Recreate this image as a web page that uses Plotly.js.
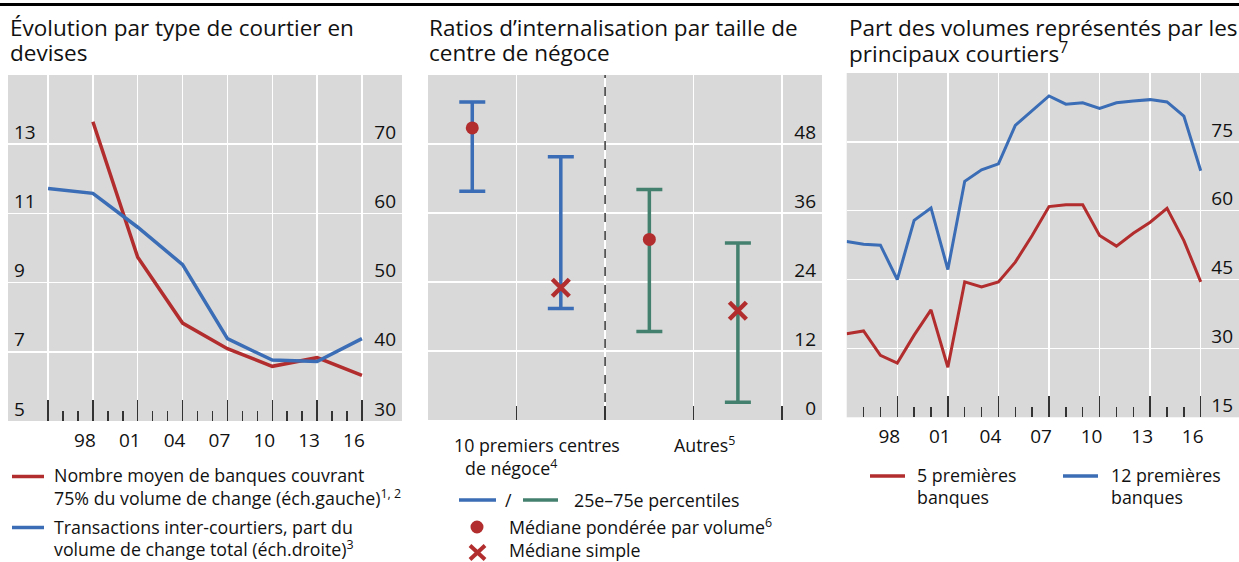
<!DOCTYPE html>
<html><head><meta charset="utf-8">
<script src="https://cdn.plot.ly/plotly-3.0.1.min.js"></script>
<style>html,body{margin:0;padding:0;background:#fff}#chart{width:1239px;height:562px}</style>
</head><body><div id="chart"></div>
<script>
// ---------- Panel 1 data ----------
const surveyYears = [1995, 1998, 2001, 2004, 2007, 2010, 2013, 2016];
const interDealerShare = [63.6, 62.9, 58.0, 52.6, 41.9, 38.8, 38.6, 41.9];
const banksYears = [1998, 2001, 2004, 2007, 2010, 2013, 2016];
const banksCovering75 = [13.65, 9.73, 7.83, 7.09, 6.58, 6.83, 6.32];
const p1LeftTicks = [5, 7, 9, 11, 13];
const p1RightTicks = [30, 40, 50, 60, 70];
const yearLabels = ['', '98', '01', '04', '07', '10', '13', '16'];

// ---------- Panel 2 data ----------
const centreCats = ['10 premiers – pondérée', '10 premiers – simple', 'Autres – pondérée', 'Autres – simple'];
const centreGroup = ['top', 'top', 'autres', 'autres'];
const pct25 = [39.8, 19.4, 15.4, 3.1];
const pct75 = [55.3, 45.8, 40.1, 30.8];
const medianVal = [50.8, 23.0, 31.4, 19.0];
const medianType = ['pondérée', 'simple', 'pondérée', 'simple'];
const p2Ticks = [0, 12, 24, 36, 48];

// ---------- Panel 3 data ----------
const annualYears = [1995, 1996, 1997, 1998, 1999, 2000, 2001, 2002, 2003, 2004, 2005,
  2006, 2007, 2008, 2009, 2010, 2011, 2012, 2013, 2014, 2015, 2016];
const top5Share = [33.2, 33.8, 28.5, 26.8, 32.9, 38.4, 25.9, 44.5, 43.4, 44.5, 48.8,
  54.6, 60.9, 61.3, 61.3, 54.6, 52.3, 55.1, 57.5, 60.5, 53.5, 44.5];
const top12Share = [53.3, 52.7, 52.5, 45.0, 57.9, 60.6, 47.2, 66.4, 68.9, 70.2, 78.6,
  81.9, 85.0, 83.2, 83.5, 82.3, 83.5, 83.9, 84.2, 83.7, 80.6, 68.7];
const p3Ticks = [15, 30, 45, 60, 75];

// ---------- texts ----------
const titles = [
  ['Évolution par type de courtier en', 'devises'],
  ['Ratios d’internalisation par taille de', 'centre de négoce'],
  ['Part des volumes représentés par les', 'principaux courtiers<sup>7</sup>']
];
const legend1 = [
  ['Nombre moyen de banques couvrant', '75% du volume de change (éch.gauche)<sup>1, 2</sup>'],
  ['Transactions inter-courtiers, part du', 'volume de change total (éch.droite)<sup>3</sup>']
];
const groupLabels = [['10 premiers centres', 'de négoce<sup>4</sup>'], ['Autres<sup>5</sup>']];
const legend2 = ['25e–75e percentiles', 'Médiane pondérée par volume<sup>6</sup>', 'Médiane simple'];
const legend3 = [['5 premières', 'banques'], ['12 premières', 'banques']];

// ---------- styles ----------
const RED = '#b22d2d', BLUE = '#3a6db5', GREEN = '#44806e', BG = '#d9d9d9', INK = '#111';
const FONT = 'Open Sans, Noto Sans, sans-serif';
const W = 1239, H = 562;
const px = x => x / W, py = y => 1 - y / H;

const minorYears = annualYears.filter(y => (y - 1995) % 3 !== 0);

const traces = [
  {x: banksYears, y: banksCovering75, xaxis: 'x', yaxis: 'y', mode: 'lines', type: 'scatter',
   line: {color: RED, width: 3.5}, name: legend1[0].join(' ')},
  {x: surveyYears, y: interDealerShare, xaxis: 'x', yaxis: 'y2', mode: 'lines', type: 'scatter',
   line: {color: BLUE, width: 3.5}, name: legend1[1].join(' ')}
];

// Panel 2 error bars
[['top', BLUE], ['autres', GREEN]].forEach(([g, col]) => {
  const idx = centreCats.map((c, i) => i).filter(i => centreGroup[i] === g);
  traces.push({
    x: idx.map(i => centreCats[i]), y: idx.map(i => medianVal[i]),
    xaxis: 'x2', yaxis: 'y3', type: 'scatter', mode: 'markers',
    marker: {size: 1, color: 'rgba(0,0,0,0)'}, hoverinfo: 'skip',
    error_y: {type: 'data', symmetric: false,
      array: idx.map(i => pct75[i] - medianVal[i]),
      arrayminus: idx.map(i => medianVal[i] - pct25[i]),
      color: col, thickness: 3.5, width: 13}
  });
});
const wIdx = centreCats.map((c, i) => i).filter(i => medianType[i] === 'pondérée');
const sIdx = centreCats.map((c, i) => i).filter(i => medianType[i] === 'simple');
traces.push({x: wIdx.map(i => centreCats[i]), y: wIdx.map(i => medianVal[i]), xaxis: 'x2', yaxis: 'y3',
  type: 'scatter', mode: 'markers', marker: {symbol: 'circle', size: 13, color: RED}, name: 'Médiane pondérée'});
traces.push({x: sIdx.map(i => centreCats[i]), y: sIdx.map(i => medianVal[i]), xaxis: 'x2', yaxis: 'y3',
  type: 'scatter', mode: 'markers', marker: {symbol: 'x-thin', size: 17, color: RED, line: {color: RED, width: 4.5}},
  name: 'Médiane simple'});

// Panel 3
traces.push({x: annualYears, y: top5Share, xaxis: 'x3', yaxis: 'y4', type: 'scatter', mode: 'lines',
  line: {color: RED, width: 3}, name: legend3[0].join(' ')});
traces.push({x: annualYears, y: top12Share, xaxis: 'x3', yaxis: 'y4', type: 'scatter', mode: 'lines',
  line: {color: BLUE, width: 3}, name: legend3[1].join(' ')});

const tickFont = {family: FONT, size: 19, color: INK};
const yearAxis = (dom, rng, anchor) => ({
  domain: dom, range: rng, anchor: anchor, showgrid: true, gridcolor: '#fff', gridwidth: 1.5,
  zeroline: false, showline: false,
  tickmode: 'array', tickvals: surveyYears, ticktext: yearLabels,
  ticks: 'inside', ticklen: 21, tickwidth: 1.5, tickcolor: '#333',
  ticklabelshift: -8, ticklabelstandoff: 6, tickfont: tickFont,
  minor: {tickmode: 'array', tickvals: minorYears, ticks: 'inside', ticklen: 10, tickwidth: 1.5, tickcolor: '#333', showgrid: false}
});
const valAxis = (extra) => Object.assign({
  zeroline: false, showline: false, ticks: '', tickmode: 'array',
  ticklabelposition: 'inside', ticklabelshift: -12, ticklabelstandoff: 3, ticklabeloverflow: 'allow',
  tickfont: tickFont, gridcolor: '#fff', gridwidth: 1.5
}, extra);

const LFS = 17.8;
const txt = (text, x, y, size, anchor) => ({text, x: px(x), y: py(y), xref: 'paper', yref: 'paper',
  xanchor: anchor || 'left', yanchor: 'middle', align: 'left', showarrow: false,
  font: {family: FONT, size: size || LFS, color: INK}});
const hline = (x0, x1, y, col, w) => ({type: 'line', xref: 'paper', yref: 'paper',
  x0: px(x0), x1: px(x1), y0: py(y), y1: py(y), line: {color: col, width: w || 3.5}});

const annotations = [];
const titleX = [8, 427, 847];
titles.forEach((t, i) => { annotations.push(txt(t[0], titleX[i], 28, 22.5)); annotations.push(txt(t[1], titleX[i], 52.5, 22.5)); });
legend1.forEach((t, i) => { annotations.push(txt(t[0], 52, 475 + 52 * i)); annotations.push(txt(t[1], 52, 497 + 51 * i)); });
annotations.push(txt(groupLabels[0][0], 452, 445));
annotations.push(txt(groupLabels[0][1], 463, 467));
annotations.push(txt(groupLabels[1][0], 672, 445));
annotations.push(txt('/', 508, 500, LFS, 'center'));
annotations.push(txt(legend2[0], 572, 500));
annotations.push(txt(legend2[1], 507, 526));
annotations.push(txt(legend2[2], 507, 549.5));
legend3.forEach((t, i) => { annotations.push(txt(t[0], 915 + 194 * i, 475)); annotations.push(txt(t[1], 915 + 194 * i, 497)); });

const shapes = [
  {type: 'line', xref: 'paper', yref: 'paper', x0: 0, x1: 1, y0: py(4.5), y1: py(4.5), line: {color: '#000', width: 3}},
  {type: 'line', xref: 'x2', yref: 'y3', x0: 3.5, x1: 3.5, y0: 0, y1: 60, layer: 'below', line: {color: '#fff', width: 1.5}},
  {type: 'line', xref: 'x2', yref: 'y3', x0: 1.5, x1: 1.5, y0: 0, y1: 60, line: {color: '#333', width: 1.5, dash: 'dash'}},
  hline(12, 44, 476.5, RED), hline(12, 44, 527.5, BLUE),
  hline(459, 496, 500, BLUE), hline(523, 558, 500, GREEN),
  hline(870, 905, 476, RED), hline(1063, 1098, 476, BLUE),
  {type: 'circle', xref: 'paper', yref: 'paper', x0: px(470.5), x1: px(483.5), y0: py(533.5), y1: py(520.5), fillcolor: RED, line: {width: 0}},
  {type: 'line', xref: 'paper', yref: 'paper', x0: px(470), x1: px(485), y0: py(545.5), y1: py(559.5), line: {color: RED, width: 4}},
  {type: 'line', xref: 'paper', yref: 'paper', x0: px(470), x1: px(485), y0: py(559.5), y1: py(545.5), line: {color: RED, width: 4}}
];

const layout = {
  width: W, height: H, margin: {l: 0, r: 0, t: 0, b: 0}, showlegend: false,
  paper_bgcolor: '#fff', plot_bgcolor: BG, font: {family: FONT, color: INK},
  xaxis: yearAxis([px(8), px(402)], [1992.32, 2018.68], 'y'),
  yaxis: valAxis({domain: [py(421), py(75)], range: [5, 15], tickvals: p1LeftTicks, side: 'left', anchor: 'x', showgrid: true}),
  yaxis2: valAxis({range: [30, 80], tickvals: p1RightTicks, side: 'right', overlaying: 'y', anchor: 'x', showgrid: false}),
  xaxis2: {domain: [px(428), px(822)], range: [-0.5, 3.95], anchor: 'y3', type: 'category',
    tickson: 'boundaries', showgrid: true, gridcolor: '#fff', gridwidth: 1.5, showticklabels: false,
    ticks: 'inside', ticklen: 14, tickwidth: 1.5, tickcolor: '#333', zeroline: false, showline: false},
  yaxis3: valAxis({domain: [py(420), py(75)], range: [0, 60], tickvals: p2Ticks, side: 'right', anchor: 'x2', showgrid: true}),
  xaxis3: yearAxis([px(846.7), 1], [1995, 2018.27], 'y4'),
  yaxis4: valAxis({domain: [py(417.3), py(73)], range: [15, 90], tickvals: p3Ticks, side: 'right', anchor: 'x3', showgrid: true}),
  shapes, annotations
};

Plotly.newPlot('chart', traces, layout, {staticPlot: true, displayModeBar: false});
</script>
</body></html>
